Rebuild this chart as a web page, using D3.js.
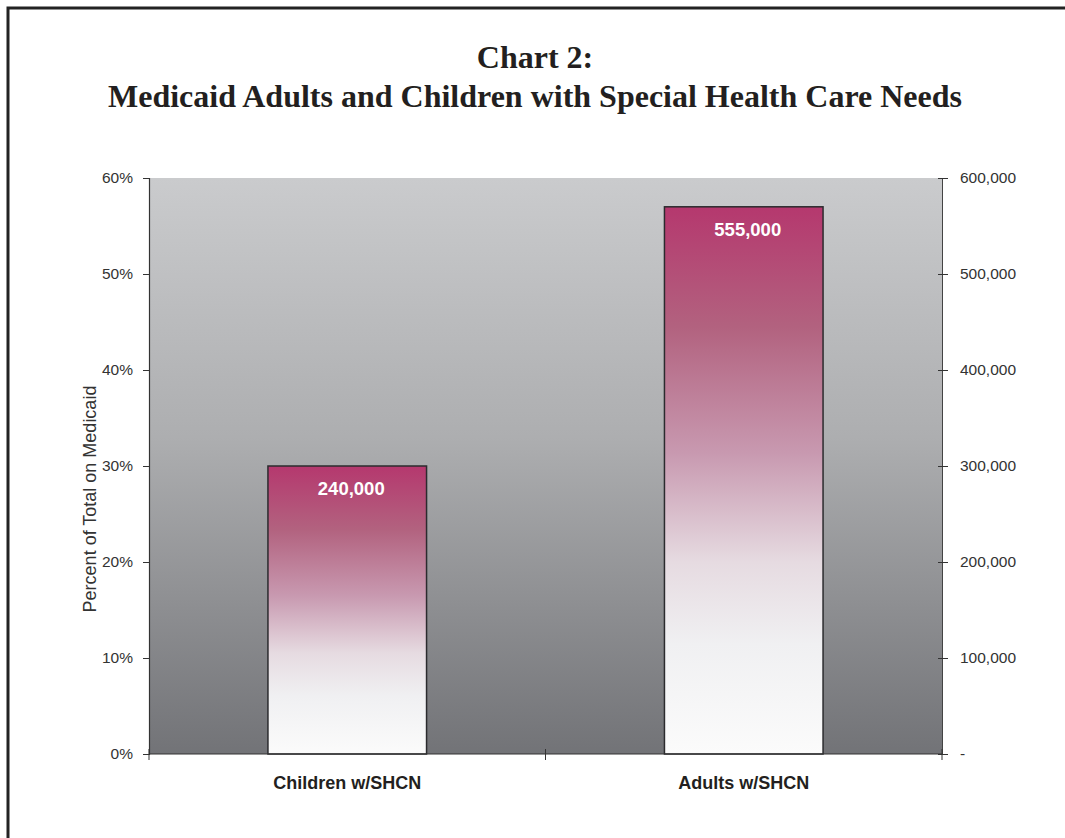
<!DOCTYPE html>
<html>
<head>
<meta charset="utf-8">
<script src="https://cdn.jsdelivr.net/npm/d3@7"></script>
<style>
  html, body { margin: 0; padding: 0; background: #fff; }
  svg { display: block; }
</style>
</head>
<body>
<svg id="chart" width="1065" height="838"></svg>
<script>
// Chart data
const categories = ["Children w/SHCN", "Adults w/SHCN"];
const percentOfMedicaid = [30, 57];          // bar heights, % of total on Medicaid
const countLabels = ["240,000", "555,000"];   // counts printed inside bars
const leftTicks = [0, 10, 20, 30, 40, 50, 60];
const rightTicks = [0, 100000, 200000, 300000, 400000, 500000, 600000];

const svg = d3.select("#chart");
const margin = { left: 149, right: 123, top: 178, bottom: 84 };
const W = 1065, H = 838;
const x0 = margin.left, x1 = W - margin.right, y0 = H - margin.bottom, y1 = margin.top;

const defs = svg.append("defs");
const bg = defs.append("linearGradient").attr("id", "bgGrad")
  .attr("x1", 0).attr("y1", 0).attr("x2", 0).attr("y2", 1);
bg.append("stop").attr("offset", "0%").attr("stop-color", "#cacbcd");
bg.append("stop").attr("offset", "45%").attr("stop-color", "#adaeb0");
bg.append("stop").attr("offset", "100%").attr("stop-color", "#727377");

const barGrad = defs.append("linearGradient").attr("id", "barGrad")
  .attr("x1", 0).attr("y1", 0).attr("x2", 0).attr("y2", 1);
[["0%", "#b5386e"], ["22%", "#b2627f"], ["45%", "#c899b0"], ["65%", "#e6dbe1"],
 ["80%", "#f0f0f2"], ["100%", "#fbfbfb"]].forEach(([o, c]) =>
  barGrad.append("stop").attr("offset", o).attr("stop-color", c));

// outer frame
svg.append("rect").attr("x", 8).attr("y", 8).attr("width", W + 10).attr("height", H + 10)
  .attr("fill", "none").attr("stroke", "#232323").attr("stroke-width", 3);

// title
const title = svg.append("text").attr("text-anchor", "middle")
  .attr("font-family", "Liberation Serif, Times New Roman, serif")
  .attr("font-weight", "bold").attr("font-size", 32).attr("fill", "#231f20");
title.append("tspan").attr("x", 535).attr("y", 68).text("Chart 2:");
title.append("tspan").attr("x", 535).attr("y", 107).text("Medicaid Adults and Children with Special Health Care Needs");

// scales
const x = d3.scaleBand().domain(categories).range([x0, x1]).paddingInner(0.6).paddingOuter(0.3);
const yL = d3.scaleLinear().domain([0, 60]).range([y0, y1]);
const yR = d3.scaleLinear().domain([0, 600000]).range([y0, y1]);

// plot background
svg.append("rect").attr("x", x0).attr("y", y1).attr("width", x1 - x0).attr("height", y0 - y1)
  .attr("fill", "url(#bgGrad)");

// bars
const bars = svg.append("g");
categories.forEach((c, i) => {
  bars.append("rect")
    .attr("x", x(c)).attr("y", yL(percentOfMedicaid[i]))
    .attr("width", x.bandwidth()).attr("height", y0 - yL(percentOfMedicaid[i]))
    .attr("fill", "url(#barGrad)").attr("stroke", "#2b2b2e").attr("stroke-width", 1.5);
  bars.append("text")
    .attr("x", x(c) + x.bandwidth() / 2 + 4).attr("y", yL(percentOfMedicaid[i]) + 29)
    .attr("text-anchor", "middle").attr("font-family", "Liberation Sans, Arial, sans-serif")
    .attr("font-weight", "bold").attr("font-size", 18.5).attr("fill", "#ffffff")
    .text(countLabels[i]);
});

const axisFont = "Liberation Sans, Arial, sans-serif";

// left axis
const gL = svg.append("g").attr("transform", `translate(${x0},0)`)
  .call(d3.axisLeft(yL).tickValues(leftTicks).tickSize(6).tickPadding(10).tickFormat(d => d + "%"));
gL.select(".domain").attr("stroke", "#333").attr("stroke-width", 1.2);
gL.selectAll(".tick line").attr("stroke", "#333");
gL.selectAll("text").attr("font-family", axisFont).attr("font-size", 15.5).attr("fill", "#333");

// right axis
const gR = svg.append("g").attr("transform", `translate(${x1},0)`)
  .call(d3.axisRight(yR).tickValues(rightTicks).tickSize(6).tickPadding(12)
    .tickFormat(d => d === 0 ? "-" : d3.format(",")(d)));
gR.select(".domain").attr("stroke", "#444").attr("stroke-width", 1);
gR.selectAll(".tick line").attr("stroke", "#333").attr("x1", -4);
gR.selectAll("text").attr("font-family", axisFont).attr("font-size", 15.5).attr("fill", "#333");

// bottom axis
const gB = svg.append("g").attr("transform", `translate(0,${y0})`);
gB.append("line").attr("x1", x0).attr("x2", x1).attr("stroke", "#333").attr("stroke-width", 1.2);
[x0, (x0 + x1) / 2, x1].forEach(px =>
  gB.append("line").attr("x1", px).attr("x2", px).attr("y1", -5).attr("y2", 6).attr("stroke", "#333"));
categories.forEach(c =>
  gB.append("text").attr("x", x(c) + x.bandwidth() / 2).attr("y", 35)
    .attr("text-anchor", "middle").attr("font-family", axisFont)
    .attr("font-weight", "bold").attr("font-size", 18).attr("fill", "#231f20").text(c));

// y-axis title
svg.append("text")
  .attr("transform", `translate(96,499) rotate(-90)`)
  .attr("text-anchor", "middle").attr("font-family", axisFont)
  .attr("font-size", 18).attr("fill", "#333")
  .text("Percent of Total on Medicaid");
</script>
</body>
</html>
